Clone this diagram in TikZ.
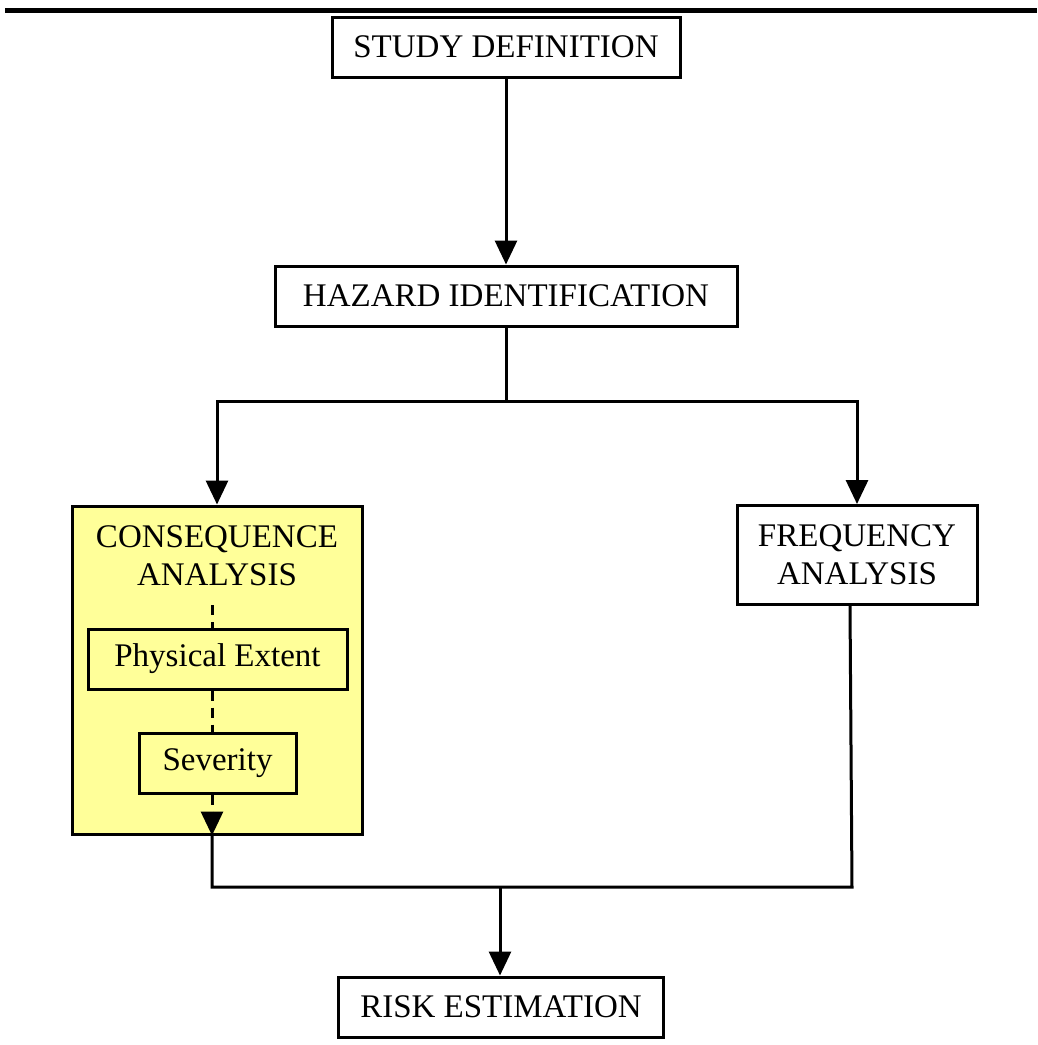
\documentclass[tikz,border=0pt]{standalone}
\IfFileExists{pplr8t.tfm}{\usepackage[T1]{fontenc}\renewcommand{\rmdefault}{ppl}}{\usepackage{fontspec}\setmainfont{Liberation Serif}}
\usepackage{xcolor}
\usetikzlibrary{arrows.meta}

\definecolor{paleyellow}{HTML}{FFFF99}

\begin{document}
\begin{tikzpicture}[x=1pt, y=-1pt, line join=miter, >={Triangle[width=22pt,length=24pt]},
  box/.style={draw, line width=3pt, inner sep=0pt, minimum height=60pt, align=center,
    font=\fontsize{33}{38}\selectfont},
  conn/.style={line width=3pt}]
  \useasboundingbox (0,0) rectangle (1037,1045);
  \draw [line width=5pt] (5,10) -- (1037,10);
  % main boxes
  \node [box, minimum width=348pt] (study) at (506,47) {STUDY DEFINITION};
  \node [box, minimum width=462pt] (hazard) at (506,296) {HAZARD IDENTIFICATION};
  \node [box, fill=paleyellow, minimum width=290pt, minimum height=328pt] (conbox) at (217,670) {};
  \node [align=center, font=\fontsize{33}{38}\selectfont, inner sep=0pt] (contitle) at (217,556) {CONSEQUENCE\\ANALYSIS};
  \node [box, minimum width=259pt] (phys) at (217.5,659) {Physical Extent};
  \node [box, minimum width=157pt] (sev) at (217.5,763) {Severity};
  \node [box, minimum width=240pt, minimum height=99pt] (freq) at (857,555) {FREQUENCY\\ANALYSIS};
  \node [box, minimum width=325pt] (risk) at (501,1007) {RISK ESTIMATION};
  \coordinate (split) at (506,401);
  \coordinate (dtop) at (212,605);
  \coordinate (mergeL) at (212,887);
  \coordinate (mergeM) at (500,887);
  \coordinate (mergeR) at (852,887);
  \coordinate (fbot) at (850,605);
  % connectors
  \draw [conn, ->] (study) -- (hazard);
  \draw [conn] (hazard) -- (split);
  \draw [conn, ->] (split) -| (conbox.north);
  \draw [conn, ->] (split) -| (freq.north);
  \draw [conn, dash pattern=on 10pt off 7pt] (dtop) -- (dtop |- phys.north);
  \draw [conn, dash pattern=on 10pt off 7pt] (dtop |- phys.south) -- (dtop |- sev.north);
  \draw [conn, dash pattern=on 10pt off 7pt, ->] (dtop |- sev.south) -- (dtop |- conbox.south);
  \draw [conn] (dtop |- conbox.south) -- (mergeL) -- (mergeR) -- (fbot);
  \draw [conn, ->] (mergeM) -- (mergeM |- risk.north);
\end{tikzpicture}
\end{document}
